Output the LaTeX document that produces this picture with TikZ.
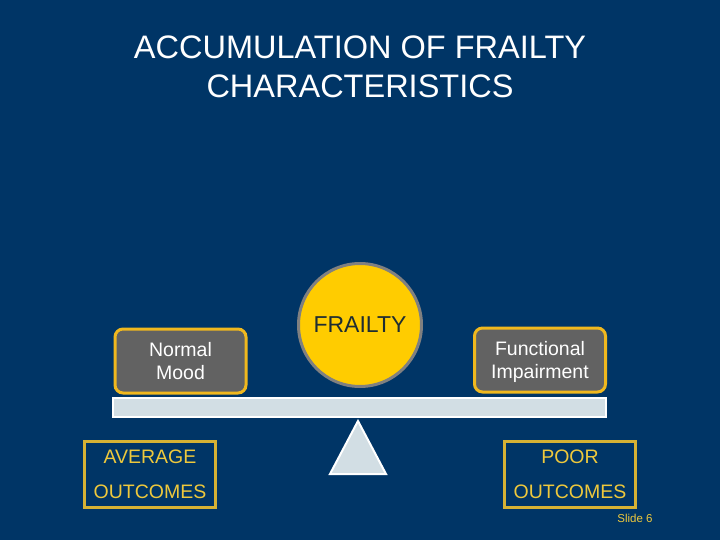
\documentclass[tikz,border=0pt]{standalone}
\usepackage{fontspec}
\setmainfont{Liberation Sans}
\usepackage{xcolor}
\usepackage{tikz}
\usetikzlibrary{positioning,calc}
\definecolor{bgnavy}{RGB}{0,53,102}
\definecolor{gold}{RGB}{240,184,30}
\definecolor{goldline}{RGB}{214,178,52}
\definecolor{goldtext}{RGB}{238,200,60}
\definecolor{boxgray}{RGB}{98,98,98}
\definecolor{beamgray}{RGB}{210,222,228}
\definecolor{ringgray}{RGB}{128,128,128}
\definecolor{sunyellow}{RGB}{255,204,0}
\definecolor{darktext}{RGB}{30,45,50}
\begin{document}
\begin{tikzpicture}[
  x=1pt, y=-1pt,
  every node/.style={font=\fontsize{19.5}{23.5}\selectfont, align=center},
  weight/.style={draw=gold, fill=boxgray, line width=3pt, rounded corners=8pt,
                 minimum width=131pt, minimum height=64pt, text=white, inner sep=2pt},
  outcome/.style={draw=goldline, line width=3pt, minimum width=131pt, minimum height=66pt,
                  text=goldtext, inner sep=2pt, font=\fontsize{19.5}{35}\selectfont},
  beam/.style={draw=white, fill=beamgray, line width=2pt},
]
\fill[bgnavy] (0,0) rectangle (720,540);
\node[text=white, font=\fontsize{32.5}{39}\selectfont] (title) at (360,67)
  {ACCUMULATION OF FRAILTY\\CHARACTERISTICS};
% see-saw
\node[beam, minimum width=493pt, minimum height=19pt, inner sep=0pt] (plank) at (359.5,407.5) {};
\draw[beam] (358,421) -- (386,474) -- (330,474) -- cycle;
% weights
\node[circle, draw=ringgray, fill=sunyellow, line width=3pt, minimum size=123pt,
      text=darktext, font=\fontsize{23}{27}\selectfont] (frailty) at (360,325) {FRAILTY};
\node[weight] (mood) at (180.5,361) {Normal\\Mood};
\node[weight] (impair) at (540,360) {Functional\\\raisebox{0pt}[\height][0pt]{Impairment}};
% outcomes
\node[outcome] (avg) at (150,474.5) {AVERAGE\\OUTCOMES};
\node[outcome] (poor) at (570,474.5) {POOR\\OUTCOMES};
\node[text=goldtext, font=\fontsize{11.5}{13}\selectfont] (slide) at (635,518) {Slide 6};
\end{tikzpicture}
\end{document}
